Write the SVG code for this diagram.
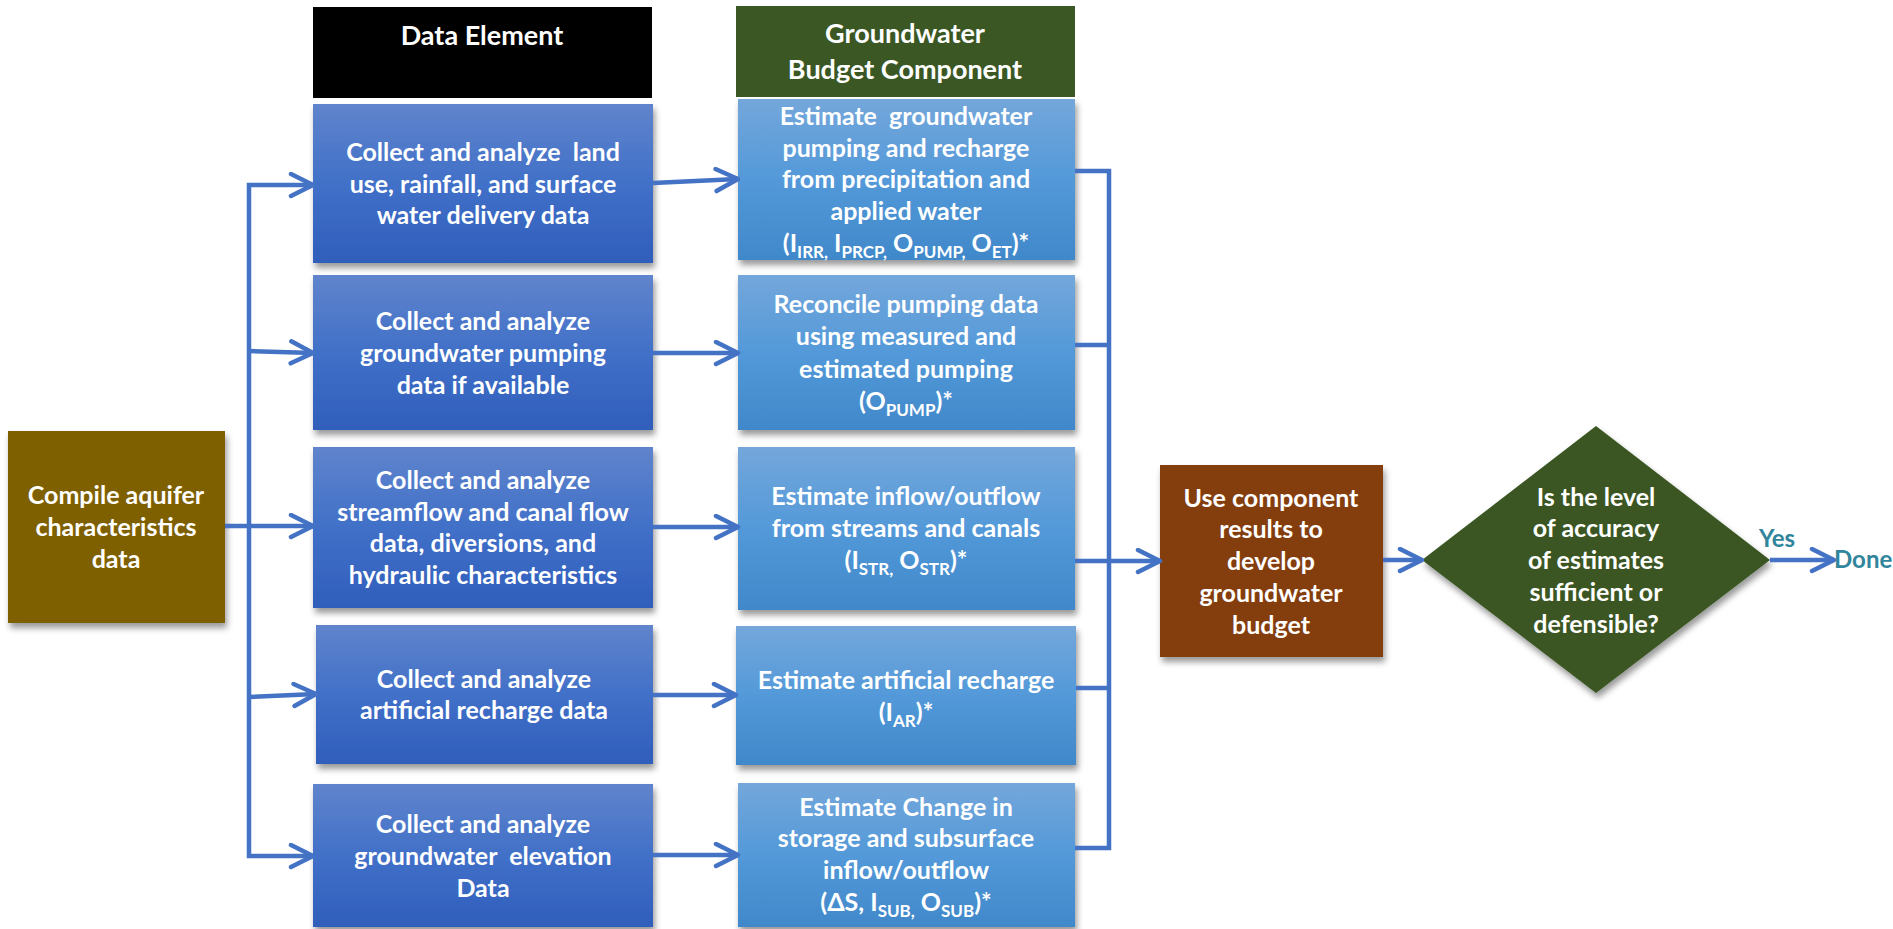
<svg xmlns="http://www.w3.org/2000/svg" width="1893" height="929" viewBox="0 0 1893 929">
<style>
.t{font-family:Lato,"Liberation Sans",sans-serif;font-weight:bold;fill:#fff;text-anchor:middle;font-size:25px}
.h{font-size:27px}
.sub{font-size:17px}
.lbl{font-family:Lato,"Liberation Sans",sans-serif;font-weight:bold;fill:#31859C;font-size:24px}
.c{fill:none;stroke:#4472C4;stroke-width:4.5}
.dk{fill:url(#gDark);filter:url(#sh)}
.lt{fill:url(#gLight);filter:url(#sh)}
</style>
<defs>
<linearGradient id="gDark" x1="0" y1="0" x2="0" y2="1">
<stop offset="0" stop-color="#6084CC"/>
<stop offset="0.5" stop-color="#4170C8"/>
<stop offset="1" stop-color="#2F5EBB"/>
</linearGradient>
<linearGradient id="gLight" x1="0" y1="0" x2="0" y2="1">
<stop offset="0" stop-color="#74A7DB"/>
<stop offset="0.5" stop-color="#5399D9"/>
<stop offset="1" stop-color="#4088CA"/>
</linearGradient>
<filter id="sh" x="-10%" y="-10%" width="125%" height="130%">
<feDropShadow dx="2" dy="5" stdDeviation="3" flood-color="#000" flood-opacity="0.4"/>
</filter>
<marker id="ar" markerUnits="userSpaceOnUse" markerWidth="30" markerHeight="30" refX="25" refY="13" orient="auto-start-reverse">
<path d="M3,2 L25,13 L3,24" fill="none" stroke="#4472C4" stroke-width="4.5" stroke-linecap="round" stroke-linejoin="round"/>
</marker>
</defs>

<g id="hdr-data">
<rect x="313" y="7" width="339" height="91" fill="#000"/>
<text class="t h" x="482" y="45">Data Element</text>
</g>
<g id="hdr-budget">
<rect x="736" y="6" width="339" height="91" fill="#3A5724"/>
<text class="t h" x="905" y="43">Groundwater</text>
<text class="t h" x="905" y="79">Budget Component</text>
</g>

<g id="compile">
<rect x="8" y="431" width="217" height="192" fill="#7F6000" filter="url(#sh)"/>
<text class="t" x="116" y="504">Compile aquifer</text>
<text class="t" x="116" y="536">characteristics</text>
<text class="t" x="116" y="568">data</text>
</g>

<g id="d1">
<rect class="dk" x="313" y="104" width="340" height="159"/>
<text class="t" x="483" y="161" xml:space="preserve">Collect and analyze  land</text>
<text class="t" x="483" y="193">use, rainfall, and surface</text>
<text class="t" x="483" y="224">water delivery data</text>
</g>
<g id="d2">
<rect class="dk" x="313" y="275" width="340" height="155"/>
<text class="t" x="483" y="330">Collect and analyze</text>
<text class="t" x="483" y="362">groundwater pumping</text>
<text class="t" x="483" y="394">data if available</text>
</g>
<g id="d3">
<rect class="dk" x="313" y="447" width="340" height="161"/>
<text class="t" x="483" y="489">Collect and analyze</text>
<text class="t" x="483" y="521">streamflow and canal flow</text>
<text class="t" x="483" y="552">data, diversions, and</text>
<text class="t" x="483" y="584">hydraulic characteristics</text>
</g>
<g id="d4">
<rect class="dk" x="316" y="625" width="337" height="139"/>
<text class="t" x="484" y="688">Collect and analyze</text>
<text class="t" x="484" y="719">artificial recharge data</text>
</g>
<g id="d5">
<rect class="dk" x="313" y="784" width="340" height="143"/>
<text class="t" x="483" y="833">Collect and analyze</text>
<text class="t" x="483" y="865" xml:space="preserve">groundwater  elevation</text>
<text class="t" x="483" y="897">Data</text>
</g>

<g id="b1">
<rect class="lt" x="738" y="99" width="337" height="161"/>
<text class="t" x="906" y="125" xml:space="preserve">Estimate  groundwater</text>
<text class="t" x="906" y="157">pumping and recharge</text>
<text class="t" x="906" y="188">from precipitation and</text>
<text class="t" x="906" y="220">applied water</text>
<text class="t" x="906" y="252" xml:space="preserve">(I<tspan class="sub" dy="6">IRR,</tspan><tspan dy="-6"> I</tspan><tspan class="sub" dy="6">PRCP,</tspan><tspan dy="-6"> O</tspan><tspan class="sub" dy="6">PUMP,</tspan><tspan dy="-6"> O</tspan><tspan class="sub" dy="6">ET</tspan><tspan dy="-6">)*</tspan></text>
</g>
<g id="b2">
<rect class="lt" x="738" y="275" width="337" height="155"/>
<text class="t" x="906" y="313">Reconcile pumping data</text>
<text class="t" x="906" y="345">using measured and</text>
<text class="t" x="906" y="378">estimated pumping</text>
<text class="t" x="906" y="410">(O<tspan class="sub" dy="6">PUMP</tspan><tspan dy="-6">)*</tspan></text>
</g>
<g id="b3">
<rect class="lt" x="738" y="447" width="337" height="163"/>
<text class="t" x="906" y="505">Estimate inflow/outflow</text>
<text class="t" x="906" y="537">from streams and canals</text>
<text class="t" x="906" y="569" xml:space="preserve">(I<tspan class="sub" dy="6">STR,</tspan><tspan dy="-6"> O</tspan><tspan class="sub" dy="6">STR</tspan><tspan dy="-6">)*</tspan></text>
</g>
<g id="b4">
<rect class="lt" x="736" y="626" width="340" height="139"/>
<text class="t" x="906" y="689">Estimate artificial recharge</text>
<text class="t" x="906" y="721">(I<tspan class="sub" dy="6">AR</tspan><tspan dy="-6">)*</tspan></text>
</g>
<g id="b5">
<rect class="lt" x="738" y="783" width="337" height="144"/>
<text class="t" x="906" y="816">Estimate Change in</text>
<text class="t" x="906" y="847">storage and subsurface</text>
<text class="t" x="906" y="879">inflow/outflow</text>
<text class="t" x="906" y="911" xml:space="preserve">(ΔS, I<tspan class="sub" dy="6">SUB,</tspan><tspan dy="-6"> O</tspan><tspan class="sub" dy="6">SUB</tspan><tspan dy="-6">)*</tspan></text>
</g>

<g id="use">
<rect x="1160" y="465" width="223" height="192" fill="#843C0C" filter="url(#sh)"/>
<text class="t" x="1271" y="507">Use component</text>
<text class="t" x="1271" y="538">results to</text>
<text class="t" x="1271" y="570">develop</text>
<text class="t" x="1271" y="602">groundwater</text>
<text class="t" x="1271" y="634">budget</text>
</g>

<g id="decision">
<polygon points="1596,426 1770,560 1596,693 1422,560" fill="#3A5724" filter="url(#sh)"/>
<text class="t" x="1596" y="506">Is the level</text>
<text class="t" x="1596" y="537">of accuracy</text>
<text class="t" x="1596" y="569">of estimates</text>
<text class="t" x="1596" y="601">sufficient or</text>
<text class="t" x="1596" y="633">defensible?</text>
</g>

<g id="done">
<text class="lbl" x="1777" y="547" text-anchor="middle">Yes</text>
<text class="lbl" x="1834" y="568">Done</text>
</g>

<g id="connectors">
<path class="c" d="M313,185 H249 V856 H313" marker-start="url(#ar)" marker-end="url(#ar)"/>
<path class="c" d="M249,351 L313,353" marker-end="url(#ar)"/>
<path class="c" d="M225,526 H313" marker-end="url(#ar)"/>
<path class="c" d="M249,697 L316,694" marker-end="url(#ar)"/>
<path class="c" d="M653,183 L738,179" marker-end="url(#ar)"/>
<path class="c" d="M653,353 H738" marker-end="url(#ar)"/>
<path class="c" d="M653,527 H738" marker-end="url(#ar)"/>
<path class="c" d="M653,695 H736" marker-end="url(#ar)"/>
<path class="c" d="M653,855 H738" marker-end="url(#ar)"/>
<path class="c" d="M1075,171 H1109 V848 H1075"/>
<path class="c" d="M1075,345 H1109"/>
<path class="c" d="M1076,688 H1109"/>
<path class="c" d="M1075,561 H1160" marker-end="url(#ar)"/>
<path class="c" d="M1383,560 H1422" marker-end="url(#ar)"/>
<path class="c" d="M1770,560 H1834" marker-end="url(#ar)"/>
</g>
</svg>
